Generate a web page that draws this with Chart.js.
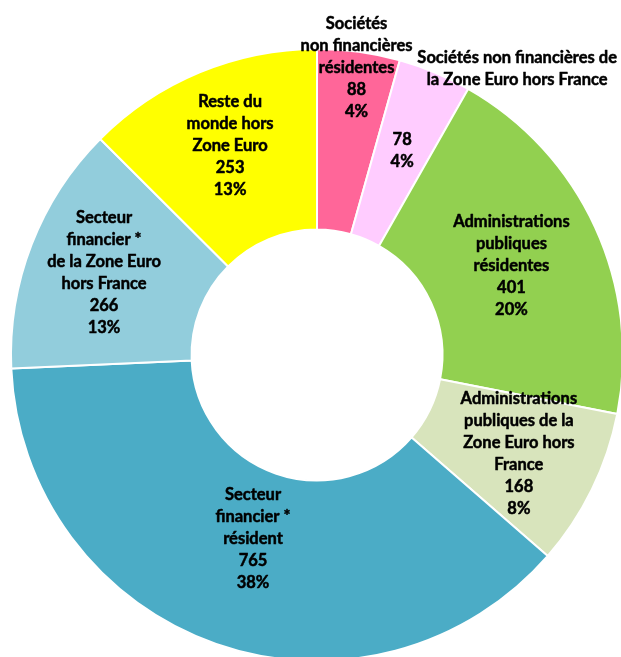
<!DOCTYPE html>
<html>
<head>
<meta charset="utf-8">
<script src="https://cdn.jsdelivr.net/npm/chart.js@4/dist/chart.umd.min.js"></script>
<style>
html, body { margin:0; padding:0; background:#fff; overflow:hidden; width:621px; height:657px; }
#c { display:block; }
</style>
</head>
<body>
<canvas id="c" width="630" height="670"></canvas>
<script>
// ---- data ----
const categories = [
  "Sociétés non financières résidentes",
  "Sociétés non financières de la Zone Euro hors France",
  "Administrations publiques résidentes",
  "Administrations publiques de la Zone Euro hors France",
  "Secteur financier * résident",
  "Secteur financier * de la Zone Euro hors France",
  "Reste du monde hors Zone Euro"
];
const values = [88, 78, 401, 168, 765, 266, 253];
// label text lines as printed in the chart
const labelNames = [
  ["Sociétés", "non financières", "résidentes"],
  [],
  ["Administrations", "publiques", "résidentes"],
  ["Administrations", "publiques de la", "Zone Euro hors", "France"],
  ["Secteur", "financier *", "résident"],
  ["Secteur", "financier *", "de la Zone Euro", "hors France"],
  ["Reste du", "monde hors", "Zone Euro"]
];
const outsideNames = [
  null,
  ["Sociétés non financières de", "la Zone Euro hors France"],
  null, null, null, null, null
];

// ---- styles / placement ----
const colors = ["#FF6699", "#FFCCFF", "#92D050", "#D8E4BC", "#4BACC6", "#92CDDC", "#FFFF00"];
// radial position of each label (0 = inner edge, 1 = outer edge)
const labelRadial = [0.91, 0.53, 0.49, 0.55, 0.38, 0.57, 0.56];
const outsidePlace = [null, {radial: 1.24, angleShift: 0.215}, null, null, null, null, null];
const FONT = "bold 16.5px Lato, 'Liberation Sans', sans-serif";
const LINE_H = 22;

const total = values.reduce((a, b) => a + b, 0);

function drawLine(ctx, t, x, y) {
  ctx.strokeText(t, x, y);
  ctx.fillText(t, x, y);
}

const labelPlugin = {
  id: 'sliceLabels',
  afterDatasetsDraw(chart) {
    const ctx = chart.ctx;
    const meta = chart.getDatasetMeta(0);
    ctx.save();
    ctx.font = FONT;
    ctx.fillStyle = "#000";
    ctx.strokeStyle = "#000";
    ctx.lineWidth = 0.5;
    ctx.lineJoin = "round";
    ctx.textAlign = "center";
    ctx.textBaseline = "middle";
    meta.data.forEach((arc, i) => {
      const p = arc.getProps(['x', 'y', 'startAngle', 'endAngle', 'innerRadius', 'outerRadius'], true);
      const mid = (p.startAngle + p.endAngle) / 2;
      const pct = Math.round(values[i] / total * 100) + "%";
      const lines = labelNames[i].concat([String(values[i]), pct]);
      const r = p.innerRadius + (p.outerRadius - p.innerRadius) * labelRadial[i];
      const cx = p.x + Math.cos(mid) * r;
      const cy = p.y + Math.sin(mid) * r;
      const y0 = cy - (lines.length - 1) * LINE_H / 2;
      lines.forEach((t, k) => drawLine(ctx, t, cx, y0 + k * LINE_H));
      if (outsideNames[i]) {
        const o = outsidePlace[i];
        const a = mid + o.angleShift;
        const r2 = p.innerRadius + (p.outerRadius - p.innerRadius) * o.radial;
        const ox = p.x + Math.cos(a) * r2;
        const oy = p.y + Math.sin(a) * r2;
        const oy0 = oy - (outsideNames[i].length - 1) * LINE_H / 2;
        outsideNames[i].forEach((t, k) => drawLine(ctx, t, ox, oy0 + k * LINE_H));
      }
    });
    ctx.restore();
  }
};

new Chart(document.getElementById('c'), {
  type: 'doughnut',
  data: {
    labels: categories,
    datasets: [{
      data: values,
      backgroundColor: colors,
      borderColor: "#ffffff",
      borderWidth: 2
    }]
  },
  options: {
    responsive: false,
    animation: false,
    devicePixelRatio: 1,
    cutout: '41%',
    layout: { padding: { left: 10, top: 48, right: 6, bottom: 8 } },
    plugins: { legend: { display: false }, tooltip: { enabled: false } }
  },
  plugins: [labelPlugin]
});
</script>
</body>
</html>
